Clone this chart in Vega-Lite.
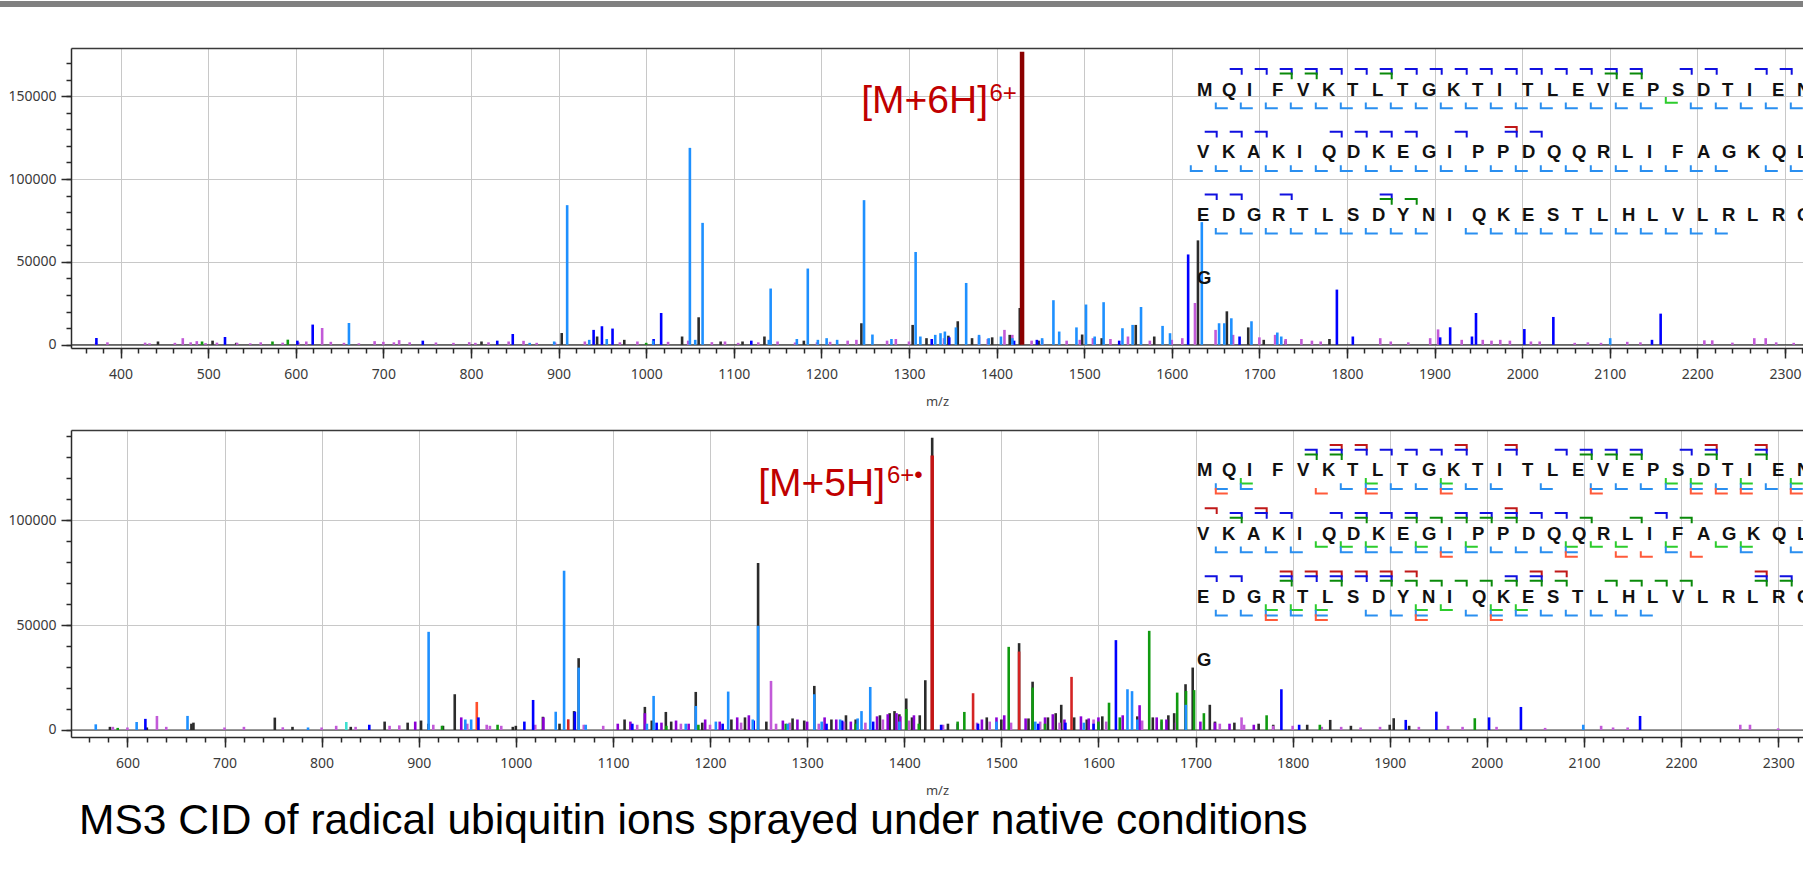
{
"$schema":"https://vega.github.io/schema/vega-lite/v6.json",
"autosize":{"type":"pad"},
"padding":0,
"background":"#ffffff",
"config":{"view":{"stroke":null}},
"datasets":{
"t":[
{"mz":442.7,"i":2000,"s":"k"},{"mz":505,"i":2500,"s":"k"},{"mz":532,"i":1200,"s":"k"},{"mz":812,"i":2000,"s":"k"},{"mz":903.6,"i":7100,"s":"k"},{"mz":944,"i":5000,"s":"k"},{"mz":975,"i":3000,"s":"k"},{"mz":1041,"i":5000,"s":"k"},{"mz":1059.9,"i":16600,"s":"k"},{"mz":1085,"i":2000,"s":"k"},{"mz":1110,"i":2000,"s":"k"},{"mz":1135,"i":5000,"s":"k"},{"mz":1180,"i":2500,"s":"k"},{"mz":1245.7,"i":13000,"s":"k"},{"mz":1304.2,"i":12000,"s":"k"},{"mz":1320,"i":4000,"s":"k"},{"mz":1345,"i":5500,"s":"k"},{"mz":1355.7,"i":14200,"s":"k"},{"mz":1372,"i":4000,"s":"k"},{"mz":1395,"i":4500,"s":"k"},{"mz":1415,"i":6000,"s":"k"},{"mz":1426.5,"i":22200,"s":"k"},{"mz":1448,"i":2500,"s":"k"},{"mz":1497.7,"i":6200,"s":"k"},{"mz":1520,"i":4000,"s":"k"},{"mz":1558.9,"i":12000,"s":"k"},{"mz":1580,"i":5000,"s":"k"},{"mz":1629.9,"i":63000,"s":"k"},{"mz":1662.9,"i":20200,"s":"k"},{"mz":1687.3,"i":10500,"s":"k"},{"mz":1705,"i":3000,"s":"k"},{"mz":1730,"i":2500,"s":"k"},{"mz":1780,"i":3500,"s":"k"},{"mz":1905,"i":3000,"s":"k"},
{"mz":372,"i":1200,"s":"o"},{"mz":385,"i":1500,"s":"o"},{"mz":428,"i":1300,"s":"o"},{"mz":433,"i":900,"s":"o"},{"mz":462,"i":1200,"s":"o"},{"mz":471,"i":4000,"s":"o"},{"mz":480,"i":1500,"s":"o"},{"mz":487,"i":2200,"s":"o"},{"mz":497,"i":1000,"s":"o"},{"mz":510,"i":1300,"s":"o"},{"mz":533,"i":1200,"s":"o"},{"mz":548,"i":900,"s":"o"},{"mz":560,"i":1500,"s":"o"},{"mz":585,"i":1300,"s":"o"},{"mz":603,"i":1500,"s":"o"},{"mz":612,"i":2000,"s":"o"},{"mz":630.1,"i":10150,"s":"o"},{"mz":640,"i":1800,"s":"o"},{"mz":655,"i":1200,"s":"o"},{"mz":672,"i":900,"s":"o"},{"mz":690,"i":2200,"s":"o"},{"mz":700,"i":1800,"s":"o"},{"mz":712,"i":1500,"s":"o"},{"mz":718,"i":2800,"s":"o"},{"mz":730,"i":1500,"s":"o"},{"mz":760,"i":1400,"s":"o"},{"mz":780,"i":1200,"s":"o"},{"mz":798,"i":1600,"s":"o"},{"mz":805,"i":1200,"s":"o"},{"mz":820,"i":1500,"s":"o"},{"mz":843,"i":2000,"s":"o"},{"mz":860,"i":2400,"s":"o"},{"mz":875,"i":1200,"s":"o"},{"mz":896,"i":1400,"s":"o"},{"mz":930,"i":2000,"s":"o"},{"mz":970,"i":1500,"s":"o"},{"mz":990,"i":2000,"s":"o"},{"mz":1025,"i":1800,"s":"o"},{"mz":1048,"i":2500,"s":"o"},{"mz":1075,"i":1600,"s":"o"},{"mz":1090,"i":2000,"s":"o"},{"mz":1105,"i":1200,"s":"o"},{"mz":1128,"i":1500,"s":"o"},{"mz":1150,"i":2000,"s":"o"},{"mz":1170,"i":1400,"s":"o"},{"mz":1195,"i":1500,"s":"o"},{"mz":1210,"i":1800,"s":"o"},{"mz":1230,"i":2500,"s":"o"},{"mz":1240,"i":3000,"s":"o"},{"mz":1275,"i":2500,"s":"o"},{"mz":1285,"i":3500,"s":"o"},{"mz":1300,"i":2000,"s":"o"},{"mz":1340,"i":4000,"s":"o"},{"mz":1380,"i":5000,"s":"o"},{"mz":1390,"i":3500,"s":"o"},{"mz":1409,"i":9000,"s":"o"},{"mz":1418,"i":6000,"s":"o"},{"mz":1440,"i":2500,"s":"o"},{"mz":1452,"i":3000,"s":"o"},{"mz":1480,"i":2500,"s":"o"},{"mz":1495,"i":3000,"s":"o"},{"mz":1510,"i":4000,"s":"o"},{"mz":1530,"i":3500,"s":"o"},{"mz":1550,"i":5000,"s":"o"},{"mz":1575,"i":2500,"s":"o"},{"mz":1600,"i":3000,"s":"o"},{"mz":1612,"i":4000,"s":"o"},{"mz":1626.5,"i":25200,"s":"o"},{"mz":1650,"i":9000,"s":"o"},{"mz":1670,"i":6000,"s":"o"},{"mz":1700,"i":4500,"s":"o"},{"mz":1718,"i":6000,"s":"o"},{"mz":1730,"i":3500,"s":"o"},{"mz":1748,"i":3500,"s":"o"},{"mz":1760,"i":2500,"s":"o"},{"mz":1770,"i":2000,"s":"o"},{"mz":1838,"i":4000,"s":"o"},{"mz":1850,"i":2000,"s":"o"},{"mz":1870,"i":1500,"s":"o"},{"mz":1895,"i":4000,"s":"o"},{"mz":1904,"i":9300,"s":"o"},{"mz":1931,"i":3000,"s":"o"},{"mz":1955,"i":3000,"s":"o"},{"mz":1965,"i":2500,"s":"o"},{"mz":1975,"i":3000,"s":"o"},{"mz":1986,"i":2500,"s":"o"},{"mz":2010,"i":2000,"s":"o"},{"mz":2020,"i":2000,"s":"o"},{"mz":2060,"i":1200,"s":"o"},{"mz":2075,"i":1500,"s":"o"},{"mz":2090,"i":1200,"s":"o"},{"mz":2120,"i":1800,"s":"o"},{"mz":2135,"i":1500,"s":"o"},{"mz":2208,"i":2700,"s":"o"},{"mz":2217,"i":2700,"s":"o"},{"mz":2240,"i":1300,"s":"o"},{"mz":2265,"i":4000,"s":"o"},{"mz":2278,"i":4000,"s":"o"},{"mz":2290,"i":1500,"s":"o"},{"mz":2310,"i":1200,"s":"o"},
{"mz":493,"i":2000,"s":"g"},{"mz":573.4,"i":2000,"s":"g"},{"mz":590.9,"i":3100,"s":"g"},{"mz":1000,"i":1200,"s":"g"},
{"mz":372.4,"i":4100,"s":"b"},{"mz":519.2,"i":4700,"s":"b"},{"mz":601.8,"i":2500,"s":"b"},{"mz":619.3,"i":12200,"s":"b"},{"mz":745,"i":2500,"s":"b"},{"mz":830,"i":2500,"s":"b"},{"mz":847.7,"i":6500,"s":"b"},{"mz":940,"i":9000,"s":"b"},{"mz":949.5,"i":11200,"s":"b"},{"mz":961.6,"i":9800,"s":"b"},{"mz":1008.5,"i":3500,"s":"b"},{"mz":1017.1,"i":19200,"s":"b"},{"mz":1120,"i":2500,"s":"b"},{"mz":1326,"i":3500,"s":"b"},{"mz":1346,"i":4500,"s":"b"},{"mz":1420,"i":2500,"s":"b"},{"mz":1446,"i":3000,"s":"b"},{"mz":1540,"i":2500,"s":"b"},{"mz":1618.7,"i":54500,"s":"b"},{"mz":1677.4,"i":5000,"s":"b"},{"mz":1788.5,"i":33300,"s":"b"},{"mz":1806.7,"i":5000,"s":"b"},{"mz":1906.4,"i":4500,"s":"b"},{"mz":1917.8,"i":10560,"s":"b"},{"mz":1942.7,"i":5000,"s":"b"},{"mz":1947.3,"i":19200,"s":"b"},{"mz":2002.5,"i":9500,"s":"b"},{"mz":2035.6,"i":16800,"s":"b"},{"mz":2148.2,"i":3000,"s":"b"},{"mz":2158.1,"i":18800,"s":"b"},
{"mz":660.7,"i":13160,"s":"l"},{"mz":867,"i":1200,"s":"l"},{"mz":895,"i":2000,"s":"l"},{"mz":909.8,"i":84240,"s":"l"},{"mz":935,"i":3000,"s":"l"},{"mz":955,"i":3500,"s":"l"},{"mz":1008,"i":2500,"s":"l"},{"mz":1049.9,"i":118800,"s":"l"},{"mz":1056,"i":3000,"s":"l"},{"mz":1064.4,"i":73550,"s":"l"},{"mz":1140,"i":3000,"s":"l"},{"mz":1142.1,"i":33940,"s":"l"},{"mz":1172,"i":3500,"s":"l"},{"mz":1184.5,"i":46000,"s":"l"},{"mz":1196,"i":3000,"s":"l"},{"mz":1206,"i":4000,"s":"l"},{"mz":1218,"i":3000,"s":"l"},{"mz":1248.7,"i":87260,"s":"l"},{"mz":1258.3,"i":6200,"s":"l"},{"mz":1280,"i":3500,"s":"l"},{"mz":1307.6,"i":56000,"s":"l"},{"mz":1313,"i":5000,"s":"l"},{"mz":1330,"i":6000,"s":"l"},{"mz":1336,"i":7000,"s":"l"},{"mz":1341,"i":8000,"s":"l"},{"mz":1353.6,"i":10500,"s":"l"},{"mz":1365.3,"i":37300,"s":"l"},{"mz":1380,"i":6000,"s":"l"},{"mz":1391,"i":4000,"s":"l"},{"mz":1405,"i":5000,"s":"l"},{"mz":1418,"i":4000,"s":"l"},{"mz":1452,"i":4000,"s":"l"},{"mz":1464.9,"i":26900,"s":"l"},{"mz":1471.5,"i":8000,"s":"l"},{"mz":1491.2,"i":10500,"s":"l"},{"mz":1502.1,"i":24300,"s":"l"},{"mz":1512,"i":5000,"s":"l"},{"mz":1522.2,"i":25700,"s":"l"},{"mz":1543.7,"i":10000,"s":"l"},{"mz":1555.3,"i":12000,"s":"l"},{"mz":1564.9,"i":22800,"s":"l"},{"mz":1589.5,"i":11400,"s":"l"},{"mz":1598,"i":7000,"s":"l"},{"mz":1634.3,"i":74000,"s":"l"},{"mz":1654,"i":13000,"s":"l"},{"mz":1660,"i":13000,"s":"l"},{"mz":1668,"i":16000,"s":"l"},{"mz":1691,"i":14200,"s":"l"},{"mz":1720.5,"i":7400,"s":"l"},{"mz":1725,"i":5000,"s":"l"},{"mz":2100.5,"i":4000,"s":"l"},
{"mz":1429.1,"i":176800,"s":"P"}
],
"u":[
{"mz":582,"i":1500,"s":"k"},{"mz":620,"i":1200,"s":"k"},{"mz":668,"i":3500,"s":"k"},{"mz":770,"i":1500,"s":"k"},{"mz":830,"i":1500,"s":"k"},{"mz":910,"i":3000,"s":"k"},{"mz":925,"i":2000,"s":"k"},{"mz":1000,"i":2000,"s":"k"},{"mz":1045,"i":3000,"s":"k"},{"mz":1112,"i":5000,"s":"k"},{"mz":1140,"i":4500,"s":"k"},{"mz":1160,"i":4000,"s":"k"},{"mz":1192,"i":3500,"s":"k"},{"mz":1222,"i":5000,"s":"k"},{"mz":1236,"i":6000,"s":"k"},{"mz":1258,"i":4000,"s":"k"},{"mz":1285,"i":5500,"s":"k"},{"mz":1297,"i":4500,"s":"k"},{"mz":1325,"i":5000,"s":"k"},{"mz":1340,"i":7000,"s":"k"},{"mz":1350,"i":5000,"s":"k"},{"mz":1375,"i":7000,"s":"k"},{"mz":1385,"i":8000,"s":"k"},{"mz":1390,"i":9000,"s":"k"},{"mz":1395,"i":7500,"s":"k"},{"mz":1408,"i":6000,"s":"k"},{"mz":1416,"i":7000,"s":"k"},{"mz":1445,"i":3000,"s":"k"},{"mz":1485,"i":6000,"s":"k"},{"mz":1500,"i":5000,"s":"k"},{"mz":1528,"i":5500,"s":"k"},{"mz":1548,"i":6000,"s":"k"},{"mz":1556,"i":8000,"s":"k"},{"mz":1575,"i":6000,"s":"k"},{"mz":1588,"i":5000,"s":"k"},{"mz":1604,"i":6500,"s":"k"},{"mz":1640,"i":6500,"s":"k"},{"mz":1656,"i":6000,"s":"k"},{"mz":1672,"i":7000,"s":"k"},{"mz":1678,"i":8000,"s":"k"},{"mz":1720,"i":4000,"s":"k"},{"mz":1740,"i":3500,"s":"k"},{"mz":1765,"i":3000,"s":"k"},{"mz":1780,"i":2500,"s":"k"},{"mz":1815,"i":2500,"s":"k"},{"mz":1860,"i":2000,"s":"k"},{"mz":1900,"i":2500,"s":"k"},{"mz":1920,"i":2000,"s":"k"},
{"mz":665.9,"i":3000,"s":"k"},{"mz":751.8,"i":5900,"s":"k"},{"mz":864.9,"i":4000,"s":"k"},{"mz":888.6,"i":3500,"s":"k"},{"mz":902.4,"i":4500,"s":"k"},{"mz":937.1,"i":17030,"s":"k"},{"mz":996.9,"i":1500,"s":"k"},{"mz":1027.9,"i":6300,"s":"k"},{"mz":1060,"i":9000,"s":"k"},{"mz":1064.7,"i":34200,"s":"k"},{"mz":1132.9,"i":11000,"s":"k"},{"mz":1154.5,"i":8600,"s":"k"},{"mz":1185.3,"i":18130,"s":"k"},{"mz":1249.5,"i":79530,"s":"k"},{"mz":1307.4,"i":21000,"s":"k"},{"mz":1402.1,"i":15000,"s":"k"},{"mz":1421.7,"i":23700,"s":"k"},{"mz":1428.8,"i":139180,"s":"k"},{"mz":1518.3,"i":41360,"s":"k"},{"mz":1532.2,"i":23000,"s":"k"},{"mz":1561.7,"i":12000,"s":"k"},{"mz":1689.7,"i":21800,"s":"k"},{"mz":1697.1,"i":29730,"s":"k"},{"mz":1714.7,"i":12000,"s":"k"},{"mz":1838.7,"i":4800,"s":"k"},{"mz":1904.1,"i":5600,"s":"k"},
{"mz":585,"i":1500,"s":"o"},{"mz":600,"i":1200,"s":"o"},{"mz":630.4,"i":6680,"s":"o"},{"mz":640,"i":1500,"s":"o"},{"mz":700,"i":1200,"s":"o"},{"mz":720,"i":1500,"s":"o"},{"mz":760,"i":1300,"s":"o"},{"mz":800,"i":1200,"s":"o"},{"mz":815,"i":2000,"s":"o"},{"mz":835,"i":1500,"s":"o"},{"mz":870,"i":2000,"s":"o"},{"mz":880,"i":2200,"s":"o"},{"mz":915,"i":2500,"s":"o"},{"mz":950,"i":3000,"s":"o"},{"mz":970,"i":2500,"s":"o"},{"mz":973.3,"i":2000,"s":"o"},{"mz":985,"i":2000,"s":"o"},{"mz":1020,"i":2500,"s":"o"},{"mz":1070,"i":2500,"s":"o"},{"mz":1090,"i":2000,"s":"o"},{"mz":1125,"i":2500,"s":"o"},{"mz":1170,"i":3000,"s":"o"},{"mz":1200,"i":2500,"s":"o"},{"mz":1232,"i":3500,"s":"o"},{"mz":1262.8,"i":23380,"s":"o"},{"mz":1268,"i":3000,"s":"o"},{"mz":1282,"i":3500,"s":"o"},{"mz":1312,"i":3000,"s":"o"},{"mz":1338,"i":4000,"s":"o"},{"mz":1360,"i":3500,"s":"o"},{"mz":1378,"i":5000,"s":"o"},{"mz":1405,"i":4500,"s":"o"},{"mz":1440,"i":2500,"s":"o"},{"mz":1475,"i":3500,"s":"o"},{"mz":1488,"i":4000,"s":"o"},{"mz":1510,"i":3500,"s":"o"},{"mz":1540,"i":4000,"s":"o"},{"mz":1560,"i":3500,"s":"o"},{"mz":1595,"i":5000,"s":"o"},{"mz":1608,"i":4000,"s":"o"},{"mz":1645,"i":4500,"s":"o"},{"mz":1665,"i":4000,"s":"o"},{"mz":1680,"i":3500,"s":"o"},{"mz":1725,"i":3000,"s":"o"},{"mz":1747.4,"i":6000,"s":"o"},{"mz":1750,"i":2500,"s":"o"},{"mz":1780,"i":2000,"s":"o"},{"mz":1800,"i":2000,"s":"o"},{"mz":1830,"i":1500,"s":"o"},{"mz":1850,"i":1500,"s":"o"},{"mz":1870,"i":1200,"s":"o"},{"mz":1890,"i":1500,"s":"o"},{"mz":1930,"i":1500,"s":"o"},{"mz":1960,"i":2000,"s":"o"},{"mz":1975,"i":1500,"s":"o"},{"mz":2010,"i":1500,"s":"o"},{"mz":2060,"i":1000,"s":"o"},{"mz":2117.7,"i":2000,"s":"o"},{"mz":2130,"i":1200,"s":"o"},{"mz":2145,"i":1200,"s":"o"},{"mz":2261,"i":2500,"s":"o"},{"mz":2271,"i":2500,"s":"o"},{"mz":2300,"i":800,"s":"o"},
{"mz":896.4,"i":4000,"s":"p"},{"mz":943.8,"i":6000,"s":"p"},{"mz":1028.4,"i":6000,"s":"p"},{"mz":1105,"i":3000,"s":"p"},{"mz":1118,"i":4000,"s":"p"},{"mz":1132.9,"i":8000,"s":"p"},{"mz":1150,"i":3500,"s":"p"},{"mz":1165,"i":4500,"s":"p"},{"mz":1178,"i":3000,"s":"p"},{"mz":1195,"i":5000,"s":"p"},{"mz":1210,"i":4000,"s":"p"},{"mz":1228,"i":6000,"s":"p"},{"mz":1240,"i":7000,"s":"p"},{"mz":1275,"i":4500,"s":"p"},{"mz":1290,"i":5000,"s":"p"},{"mz":1300,"i":4000,"s":"p"},{"mz":1318,"i":6000,"s":"p"},{"mz":1330,"i":5000,"s":"p"},{"mz":1345,"i":4000,"s":"p"},{"mz":1372,"i":6500,"s":"p"},{"mz":1383,"i":7500,"s":"p"},{"mz":1392,"i":8000,"s":"p"},{"mz":1396,"i":6500,"s":"p"},{"mz":1410,"i":7000,"s":"p"},{"mz":1455,"i":3000,"s":"p"},{"mz":1480,"i":5000,"s":"p"},{"mz":1495,"i":6000,"s":"p"},{"mz":1503,"i":7000,"s":"p"},{"mz":1525,"i":5500,"s":"p"},{"mz":1545,"i":6000,"s":"p"},{"mz":1553,"i":7500,"s":"p"},{"mz":1565,"i":5000,"s":"p"},{"mz":1582,"i":6500,"s":"p"},{"mz":1590,"i":5500,"s":"p"},{"mz":1600,"i":6000,"s":"p"},{"mz":1625,"i":7000,"s":"p"},{"mz":1642.4,"i":11800,"s":"p"},{"mz":1660,"i":6000,"s":"p"},{"mz":1670,"i":5000,"s":"p"},{"mz":1705,"i":4000,"s":"p"},{"mz":1720,"i":3500,"s":"p"},{"mz":1735,"i":3000,"s":"p"},{"mz":1760,"i":2500,"s":"p"},
{"mz":590,"i":1000,"s":"g"},{"mz":924,"i":2000,"s":"g"},{"mz":981.2,"i":2500,"s":"g"},{"mz":1155,"i":2000,"s":"g"},{"mz":1188,"i":2500,"s":"g"},{"mz":1278,"i":3000,"s":"g"},{"mz":1350,"i":3000,"s":"g"},{"mz":1402.1,"i":10000,"s":"g"},{"mz":1415,"i":3000,"s":"g"},{"mz":1455,"i":4000,"s":"g"},{"mz":1461.9,"i":8600,"s":"g"},{"mz":1507.6,"i":39600,"s":"g"},{"mz":1532.2,"i":20200,"s":"g"},{"mz":1545,"i":3000,"s":"g"},{"mz":1600,"i":4000,"s":"g"},{"mz":1610.9,"i":13000,"s":"g"},{"mz":1622,"i":6000,"s":"g"},{"mz":1652.3,"i":47230,"s":"g"},{"mz":1665,"i":5000,"s":"g"},{"mz":1681.1,"i":17800,"s":"g"},{"mz":1690.2,"i":18600,"s":"g"},{"mz":1698.5,"i":19000,"s":"g"},{"mz":1708.6,"i":8000,"s":"g"},{"mz":1773.2,"i":7000,"s":"g"},{"mz":1828,"i":2500,"s":"g"},{"mz":1987.6,"i":5600,"s":"g"},
{"mz":825.4,"i":3800,"s":"c"},
{"mz":959.8,"i":13360,"s":"q"},
{"mz":1054,"i":5100,"s":"r"},{"mz":1470.9,"i":17510,"s":"r"},{"mz":1518.3,"i":37360,"s":"r"},{"mz":1572.3,"i":25290,"s":"r"},
{"mz":618.5,"i":5300,"s":"b"},{"mz":849.1,"i":2500,"s":"b"},{"mz":961.5,"i":6000,"s":"b"},{"mz":1008.8,"i":4000,"s":"b"},{"mz":1017.8,"i":14300,"s":"b"},{"mz":1060.8,"i":8700,"s":"b"},{"mz":1120,"i":3000,"s":"b"},{"mz":1145,"i":3500,"s":"b"},{"mz":1213,"i":3000,"s":"b"},{"mz":1245,"i":4500,"s":"b"},{"mz":1320,"i":3000,"s":"b"},{"mz":1336,"i":4500,"s":"b"},{"mz":1368,"i":4000,"s":"b"},{"mz":1438,"i":2500,"s":"b"},{"mz":1476,"i":3000,"s":"b"},{"mz":1538,"i":3000,"s":"b"},{"mz":1566,"i":3500,"s":"b"},{"mz":1595,"i":3000,"s":"b"},{"mz":1618,"i":42800,"s":"b"},{"mz":1788.4,"i":19400,"s":"b"},{"mz":1806.7,"i":2500,"s":"b"},{"mz":1916.5,"i":4800,"s":"b"},{"mz":1948,"i":8740,"s":"b"},{"mz":2002.3,"i":6000,"s":"b"},{"mz":2035.1,"i":10970,"s":"b"},{"mz":2157.8,"i":6680,"s":"b"},
{"mz":567.4,"i":2700,"s":"l"},{"mz":609.5,"i":3800,"s":"l"},{"mz":661.9,"i":6700,"s":"l"},{"mz":786,"i":1200,"s":"l"},{"mz":910.2,"i":46760,"s":"l"},{"mz":948,"i":5000,"s":"l"},{"mz":954,"i":5000,"s":"l"},{"mz":1041.1,"i":8700,"s":"l"},{"mz":1049.7,"i":75860,"s":"l"},{"mz":1064.7,"i":29700,"s":"l"},{"mz":1072,"i":2500,"s":"l"},{"mz":1135,"i":3000,"s":"l"},{"mz":1141.9,"i":16220,"s":"l"},{"mz":1175,"i":3000,"s":"l"},{"mz":1185.3,"i":11450,"s":"l"},{"mz":1206,"i":4000,"s":"l"},{"mz":1218.7,"i":18300,"s":"l"},{"mz":1244,"i":5000,"s":"l"},{"mz":1249.5,"i":49620,"s":"l"},{"mz":1280,"i":3000,"s":"l"},{"mz":1307.4,"i":17030,"s":"l"},{"mz":1315,"i":4000,"s":"l"},{"mz":1334,"i":5000,"s":"l"},{"mz":1352,"i":5500,"s":"l"},{"mz":1356,"i":9000,"s":"l"},{"mz":1365,"i":20500,"s":"l"},{"mz":1395,"i":4000,"s":"l"},{"mz":1495,"i":4000,"s":"l"},{"mz":1535,"i":4000,"s":"l"},{"mz":1585,"i":3500,"s":"l"},{"mz":1629.9,"i":19400,"s":"l"},{"mz":1634.6,"i":18500,"s":"l"},{"mz":1640,"i":5000,"s":"l"},{"mz":1690,"i":12000,"s":"l"},{"mz":2099.3,"i":2500,"s":"l"},
{"mz":1428.8,"i":130730,"s":"R"}
],
"seq":[
{"r":1,"i":0,"aa":"M"},{"r":1,"i":1,"aa":"Q"},{"r":1,"i":2,"aa":"I"},{"r":1,"i":3,"aa":"F"},{"r":1,"i":4,"aa":"V"},{"r":1,"i":5,"aa":"K"},{"r":1,"i":6,"aa":"T"},{"r":1,"i":7,"aa":"L"},{"r":1,"i":8,"aa":"T"},{"r":1,"i":9,"aa":"G"},{"r":1,"i":10,"aa":"K"},{"r":1,"i":11,"aa":"T"},{"r":1,"i":12,"aa":"I"},{"r":1,"i":13,"aa":"T"},{"r":1,"i":14,"aa":"L"},{"r":1,"i":15,"aa":"E"},{"r":1,"i":16,"aa":"V"},{"r":1,"i":17,"aa":"E"},{"r":1,"i":18,"aa":"P"},{"r":1,"i":19,"aa":"S"},{"r":1,"i":20,"aa":"D"},{"r":1,"i":21,"aa":"T"},{"r":1,"i":22,"aa":"I"},{"r":1,"i":23,"aa":"E"},{"r":1,"i":24,"aa":"N"},
{"r":2,"i":0,"aa":"V"},{"r":2,"i":1,"aa":"K"},{"r":2,"i":2,"aa":"A"},{"r":2,"i":3,"aa":"K"},{"r":2,"i":4,"aa":"I"},{"r":2,"i":5,"aa":"Q"},{"r":2,"i":6,"aa":"D"},{"r":2,"i":7,"aa":"K"},{"r":2,"i":8,"aa":"E"},{"r":2,"i":9,"aa":"G"},{"r":2,"i":10,"aa":"I"},{"r":2,"i":11,"aa":"P"},{"r":2,"i":12,"aa":"P"},{"r":2,"i":13,"aa":"D"},{"r":2,"i":14,"aa":"Q"},{"r":2,"i":15,"aa":"Q"},{"r":2,"i":16,"aa":"R"},{"r":2,"i":17,"aa":"L"},{"r":2,"i":18,"aa":"I"},{"r":2,"i":19,"aa":"F"},{"r":2,"i":20,"aa":"A"},{"r":2,"i":21,"aa":"G"},{"r":2,"i":22,"aa":"K"},{"r":2,"i":23,"aa":"Q"},{"r":2,"i":24,"aa":"L"},
{"r":3,"i":0,"aa":"E"},{"r":3,"i":1,"aa":"D"},{"r":3,"i":2,"aa":"G"},{"r":3,"i":3,"aa":"R"},{"r":3,"i":4,"aa":"T"},{"r":3,"i":5,"aa":"L"},{"r":3,"i":6,"aa":"S"},{"r":3,"i":7,"aa":"D"},{"r":3,"i":8,"aa":"Y"},{"r":3,"i":9,"aa":"N"},{"r":3,"i":10,"aa":"I"},{"r":3,"i":11,"aa":"Q"},{"r":3,"i":12,"aa":"K"},{"r":3,"i":13,"aa":"E"},{"r":3,"i":14,"aa":"S"},{"r":3,"i":15,"aa":"T"},{"r":3,"i":16,"aa":"L"},{"r":3,"i":17,"aa":"H"},{"r":3,"i":18,"aa":"L"},{"r":3,"i":19,"aa":"V"},{"r":3,"i":20,"aa":"L"},{"r":3,"i":21,"aa":"R"},{"r":3,"i":22,"aa":"L"},{"r":3,"i":23,"aa":"R"},{"r":3,"i":24,"aa":"G"},
{"r":4,"i":0,"aa":"G"}
],
"br":[
{"p":1,"r":1,"i":1,"t":"b"},{"p":1,"r":1,"i":2,"t":"b"},{"p":1,"r":1,"i":3,"t":"b"},{"p":1,"r":1,"i":4,"t":"b"},{"p":1,"r":1,"i":5,"t":"b"},{"p":1,"r":1,"i":6,"t":"b"},{"p":1,"r":1,"i":7,"t":"b"},{"p":1,"r":1,"i":8,"t":"b"},{"p":1,"r":1,"i":9,"t":"b"},{"p":1,"r":1,"i":10,"t":"b"},{"p":1,"r":1,"i":11,"t":"b"},{"p":1,"r":1,"i":12,"t":"b"},{"p":1,"r":1,"i":13,"t":"b"},{"p":1,"r":1,"i":14,"t":"b"},{"p":1,"r":1,"i":15,"t":"b"},{"p":1,"r":1,"i":16,"t":"b"},{"p":1,"r":1,"i":17,"t":"b"},{"p":1,"r":1,"i":19,"t":"b"},{"p":1,"r":1,"i":20,"t":"b"},{"p":1,"r":1,"i":22,"t":"b"},{"p":1,"r":1,"i":23,"t":"b"},
{"p":1,"r":1,"i":3,"t":"a"},{"p":1,"r":1,"i":4,"t":"a"},{"p":1,"r":1,"i":7,"t":"a"},{"p":1,"r":1,"i":16,"t":"a"},{"p":1,"r":1,"i":17,"t":"a"},
{"p":1,"r":1,"i":0,"t":"y"},{"p":1,"r":1,"i":1,"t":"y"},{"p":1,"r":1,"i":2,"t":"y"},{"p":1,"r":1,"i":3,"t":"y"},{"p":1,"r":1,"i":4,"t":"y"},{"p":1,"r":1,"i":5,"t":"y"},{"p":1,"r":1,"i":6,"t":"y"},{"p":1,"r":1,"i":7,"t":"y"},{"p":1,"r":1,"i":8,"t":"y"},{"p":1,"r":1,"i":9,"t":"y"},{"p":1,"r":1,"i":10,"t":"y"},{"p":1,"r":1,"i":11,"t":"y"},{"p":1,"r":1,"i":12,"t":"y"},{"p":1,"r":1,"i":13,"t":"y"},{"p":1,"r":1,"i":14,"t":"y"},{"p":1,"r":1,"i":15,"t":"y"},{"p":1,"r":1,"i":16,"t":"y"},{"p":1,"r":1,"i":17,"t":"y"},{"p":1,"r":1,"i":19,"t":"y"},{"p":1,"r":1,"i":20,"t":"y"},{"p":1,"r":1,"i":21,"t":"y"},{"p":1,"r":1,"i":22,"t":"y"},{"p":1,"r":1,"i":23,"t":"y"},
{"p":1,"r":1,"i":18,"t":"x"},
{"p":1,"r":2,"i":0,"t":"b"},{"p":1,"r":2,"i":1,"t":"b"},{"p":1,"r":2,"i":2,"t":"b"},{"p":1,"r":2,"i":5,"t":"b"},{"p":1,"r":2,"i":6,"t":"b"},{"p":1,"r":2,"i":7,"t":"b"},{"p":1,"r":2,"i":8,"t":"b"},{"p":1,"r":2,"i":10,"t":"b"},{"p":1,"r":2,"i":12,"t":"b"},{"p":1,"r":2,"i":13,"t":"b"},
{"p":1,"r":2,"i":12,"t":"c"},
{"p":1,"r":2,"i":-1,"t":"y"},{"p":1,"r":2,"i":0,"t":"y"},{"p":1,"r":2,"i":1,"t":"y"},{"p":1,"r":2,"i":2,"t":"y"},{"p":1,"r":2,"i":3,"t":"y"},{"p":1,"r":2,"i":4,"t":"y"},{"p":1,"r":2,"i":5,"t":"y"},{"p":1,"r":2,"i":6,"t":"y"},{"p":1,"r":2,"i":7,"t":"y"},{"p":1,"r":2,"i":8,"t":"y"},{"p":1,"r":2,"i":9,"t":"y"},{"p":1,"r":2,"i":10,"t":"y"},{"p":1,"r":2,"i":11,"t":"y"},{"p":1,"r":2,"i":12,"t":"y"},{"p":1,"r":2,"i":13,"t":"y"},{"p":1,"r":2,"i":14,"t":"y"},{"p":1,"r":2,"i":15,"t":"y"},{"p":1,"r":2,"i":16,"t":"y"},{"p":1,"r":2,"i":17,"t":"y"},{"p":1,"r":2,"i":18,"t":"y"},{"p":1,"r":2,"i":19,"t":"y"},{"p":1,"r":2,"i":20,"t":"y"},{"p":1,"r":2,"i":22,"t":"y"},{"p":1,"r":2,"i":23,"t":"y"},
{"p":1,"r":3,"i":0,"t":"b"},{"p":1,"r":3,"i":1,"t":"b"},{"p":1,"r":3,"i":3,"t":"b"},{"p":1,"r":3,"i":7,"t":"b"},
{"p":1,"r":3,"i":7,"t":"a"},{"p":1,"r":3,"i":8,"t":"a"},
{"p":1,"r":3,"i":0,"t":"y"},{"p":1,"r":3,"i":1,"t":"y"},{"p":1,"r":3,"i":2,"t":"y"},{"p":1,"r":3,"i":3,"t":"y"},{"p":1,"r":3,"i":4,"t":"y"},{"p":1,"r":3,"i":5,"t":"y"},{"p":1,"r":3,"i":6,"t":"y"},{"p":1,"r":3,"i":7,"t":"y"},{"p":1,"r":3,"i":8,"t":"y"},{"p":1,"r":3,"i":10,"t":"y"},{"p":1,"r":3,"i":11,"t":"y"},{"p":1,"r":3,"i":12,"t":"y"},{"p":1,"r":3,"i":13,"t":"y"},{"p":1,"r":3,"i":14,"t":"y"},{"p":1,"r":3,"i":15,"t":"y"},{"p":1,"r":3,"i":16,"t":"y"},{"p":1,"r":3,"i":17,"t":"y"},{"p":1,"r":3,"i":18,"t":"y"},{"p":1,"r":3,"i":19,"t":"y"},{"p":1,"r":3,"i":20,"t":"y"},
{"p":2,"r":1,"i":4,"t":"b"},{"p":2,"r":1,"i":5,"t":"b"},{"p":2,"r":1,"i":6,"t":"b"},{"p":2,"r":1,"i":7,"t":"b"},{"p":2,"r":1,"i":8,"t":"b"},{"p":2,"r":1,"i":9,"t":"b"},{"p":2,"r":1,"i":10,"t":"b"},{"p":2,"r":1,"i":12,"t":"b"},{"p":2,"r":1,"i":14,"t":"b"},{"p":2,"r":1,"i":15,"t":"b"},{"p":2,"r":1,"i":16,"t":"b"},{"p":2,"r":1,"i":17,"t":"b"},{"p":2,"r":1,"i":19,"t":"b"},{"p":2,"r":1,"i":20,"t":"b"},{"p":2,"r":1,"i":22,"t":"b"},
{"p":2,"r":1,"i":4,"t":"a"},{"p":2,"r":1,"i":5,"t":"a"},{"p":2,"r":1,"i":15,"t":"a"},{"p":2,"r":1,"i":16,"t":"a"},{"p":2,"r":1,"i":17,"t":"a"},{"p":2,"r":1,"i":20,"t":"a"},{"p":2,"r":1,"i":22,"t":"a"},
{"p":2,"r":1,"i":5,"t":"c"},{"p":2,"r":1,"i":6,"t":"c"},{"p":2,"r":1,"i":10,"t":"c"},{"p":2,"r":1,"i":12,"t":"c"},{"p":2,"r":1,"i":20,"t":"c"},{"p":2,"r":1,"i":22,"t":"c"},
{"p":2,"r":1,"i":0,"t":"y"},{"p":2,"r":1,"i":1,"t":"y"},{"p":2,"r":1,"i":5,"t":"y"},{"p":2,"r":1,"i":6,"t":"y"},{"p":2,"r":1,"i":7,"t":"y"},{"p":2,"r":1,"i":8,"t":"y"},{"p":2,"r":1,"i":9,"t":"y"},{"p":2,"r":1,"i":10,"t":"y"},{"p":2,"r":1,"i":11,"t":"y"},{"p":2,"r":1,"i":13,"t":"y"},{"p":2,"r":1,"i":15,"t":"y"},{"p":2,"r":1,"i":16,"t":"y"},{"p":2,"r":1,"i":17,"t":"y"},{"p":2,"r":1,"i":18,"t":"y"},{"p":2,"r":1,"i":19,"t":"y"},{"p":2,"r":1,"i":20,"t":"y"},{"p":2,"r":1,"i":21,"t":"y"},{"p":2,"r":1,"i":22,"t":"y"},{"p":2,"r":1,"i":23,"t":"y"},
{"p":2,"r":1,"i":1,"t":"x"},{"p":2,"r":1,"i":6,"t":"x"},{"p":2,"r":1,"i":9,"t":"x"},{"p":2,"r":1,"i":18,"t":"x"},{"p":2,"r":1,"i":19,"t":"x"},{"p":2,"r":1,"i":21,"t":"x"},{"p":2,"r":1,"i":23,"t":"x"},
{"p":2,"r":1,"i":0,"t":"z"},{"p":2,"r":1,"i":4,"t":"z"},{"p":2,"r":1,"i":6,"t":"z"},{"p":2,"r":1,"i":9,"t":"z"},{"p":2,"r":1,"i":15,"t":"z"},{"p":2,"r":1,"i":19,"t":"z"},{"p":2,"r":1,"i":20,"t":"z"},{"p":2,"r":1,"i":21,"t":"z"},{"p":2,"r":1,"i":23,"t":"z"},
{"p":2,"r":2,"i":1,"t":"b"},{"p":2,"r":2,"i":2,"t":"b"},{"p":2,"r":2,"i":3,"t":"b"},{"p":2,"r":2,"i":5,"t":"b"},{"p":2,"r":2,"i":6,"t":"b"},{"p":2,"r":2,"i":7,"t":"b"},{"p":2,"r":2,"i":8,"t":"b"},{"p":2,"r":2,"i":10,"t":"b"},{"p":2,"r":2,"i":11,"t":"b"},{"p":2,"r":2,"i":12,"t":"b"},{"p":2,"r":2,"i":13,"t":"b"},{"p":2,"r":2,"i":14,"t":"b"},{"p":2,"r":2,"i":18,"t":"b"},
{"p":2,"r":2,"i":1,"t":"a"},{"p":2,"r":2,"i":6,"t":"a"},{"p":2,"r":2,"i":8,"t":"a"},{"p":2,"r":2,"i":9,"t":"a"},{"p":2,"r":2,"i":10,"t":"a"},{"p":2,"r":2,"i":11,"t":"a"},{"p":2,"r":2,"i":12,"t":"a"},{"p":2,"r":2,"i":15,"t":"a"},{"p":2,"r":2,"i":17,"t":"a"},{"p":2,"r":2,"i":19,"t":"a"},
{"p":2,"r":2,"i":0,"t":"c"},{"p":2,"r":2,"i":2,"t":"c"},{"p":2,"r":2,"i":12,"t":"c"},
{"p":2,"r":2,"i":0,"t":"y"},{"p":2,"r":2,"i":1,"t":"y"},{"p":2,"r":2,"i":2,"t":"y"},{"p":2,"r":2,"i":3,"t":"y"},{"p":2,"r":2,"i":5,"t":"y"},{"p":2,"r":2,"i":6,"t":"y"},{"p":2,"r":2,"i":7,"t":"y"},{"p":2,"r":2,"i":8,"t":"y"},{"p":2,"r":2,"i":9,"t":"y"},{"p":2,"r":2,"i":10,"t":"y"},{"p":2,"r":2,"i":11,"t":"y"},{"p":2,"r":2,"i":12,"t":"y"},{"p":2,"r":2,"i":13,"t":"y"},{"p":2,"r":2,"i":14,"t":"y"},{"p":2,"r":2,"i":18,"t":"y"},{"p":2,"r":2,"i":21,"t":"y"},{"p":2,"r":2,"i":23,"t":"y"},
{"p":2,"r":2,"i":4,"t":"x"},{"p":2,"r":2,"i":5,"t":"x"},{"p":2,"r":2,"i":6,"t":"x"},{"p":2,"r":2,"i":8,"t":"x"},{"p":2,"r":2,"i":10,"t":"x"},{"p":2,"r":2,"i":14,"t":"x"},{"p":2,"r":2,"i":15,"t":"x"},{"p":2,"r":2,"i":16,"t":"x"},{"p":2,"r":2,"i":18,"t":"x"},{"p":2,"r":2,"i":20,"t":"x"},{"p":2,"r":2,"i":21,"t":"x"},
{"p":2,"r":2,"i":9,"t":"z"},{"p":2,"r":2,"i":14,"t":"z"},{"p":2,"r":2,"i":16,"t":"z"},{"p":2,"r":2,"i":17,"t":"z"},{"p":2,"r":2,"i":19,"t":"z"},
{"p":2,"r":3,"i":0,"t":"b"},{"p":2,"r":3,"i":1,"t":"b"},{"p":2,"r":3,"i":3,"t":"b"},{"p":2,"r":3,"i":4,"t":"b"},{"p":2,"r":3,"i":5,"t":"b"},{"p":2,"r":3,"i":6,"t":"b"},{"p":2,"r":3,"i":7,"t":"b"},{"p":2,"r":3,"i":12,"t":"b"},{"p":2,"r":3,"i":13,"t":"b"},{"p":2,"r":3,"i":22,"t":"b"},{"p":2,"r":3,"i":23,"t":"b"},
{"p":2,"r":3,"i":3,"t":"a"},{"p":2,"r":3,"i":5,"t":"a"},{"p":2,"r":3,"i":7,"t":"a"},{"p":2,"r":3,"i":8,"t":"a"},{"p":2,"r":3,"i":9,"t":"a"},{"p":2,"r":3,"i":10,"t":"a"},{"p":2,"r":3,"i":11,"t":"a"},{"p":2,"r":3,"i":12,"t":"a"},{"p":2,"r":3,"i":13,"t":"a"},{"p":2,"r":3,"i":14,"t":"a"},{"p":2,"r":3,"i":16,"t":"a"},{"p":2,"r":3,"i":17,"t":"a"},{"p":2,"r":3,"i":18,"t":"a"},{"p":2,"r":3,"i":19,"t":"a"},{"p":2,"r":3,"i":22,"t":"a"},{"p":2,"r":3,"i":23,"t":"a"},
{"p":2,"r":3,"i":3,"t":"c"},{"p":2,"r":3,"i":4,"t":"c"},{"p":2,"r":3,"i":5,"t":"c"},{"p":2,"r":3,"i":6,"t":"c"},{"p":2,"r":3,"i":7,"t":"c"},{"p":2,"r":3,"i":8,"t":"c"},{"p":2,"r":3,"i":13,"t":"c"},{"p":2,"r":3,"i":14,"t":"c"},{"p":2,"r":3,"i":22,"t":"c"},
{"p":2,"r":3,"i":0,"t":"y"},{"p":2,"r":3,"i":1,"t":"y"},{"p":2,"r":3,"i":2,"t":"y"},{"p":2,"r":3,"i":3,"t":"y"},{"p":2,"r":3,"i":4,"t":"y"},{"p":2,"r":3,"i":6,"t":"y"},{"p":2,"r":3,"i":7,"t":"y"},{"p":2,"r":3,"i":8,"t":"y"},{"p":2,"r":3,"i":10,"t":"y"},{"p":2,"r":3,"i":11,"t":"y"},{"p":2,"r":3,"i":12,"t":"y"},{"p":2,"r":3,"i":13,"t":"y"},{"p":2,"r":3,"i":14,"t":"y"},{"p":2,"r":3,"i":15,"t":"y"},{"p":2,"r":3,"i":16,"t":"y"},{"p":2,"r":3,"i":17,"t":"y"},
{"p":2,"r":3,"i":2,"t":"x"},{"p":2,"r":3,"i":3,"t":"x"},{"p":2,"r":3,"i":4,"t":"x"},{"p":2,"r":3,"i":8,"t":"x"},{"p":2,"r":3,"i":9,"t":"x"},{"p":2,"r":3,"i":11,"t":"x"},{"p":2,"r":3,"i":12,"t":"x"},
{"p":2,"r":3,"i":2,"t":"z"},{"p":2,"r":3,"i":4,"t":"z"},{"p":2,"r":3,"i":8,"t":"z"},{"p":2,"r":3,"i":11,"t":"z"}
]
},
"spacing":82,
"bounds":"flush",
"vconcat":[
{
"width":1732,"height":300,
"resolve":{"scale":{"x":"independent","y":"independent"}},
"layer":[
{
"resolve":{"axis":{"x":"independent","y":"independent"}},
"layer":[
{"data":{"values":[{}]},"mark":{"type":"rect","color":"#808080","clip":false},
 "encoding":{"x":{"datum":262.35,"type":"quantitative","scale":{"domain":[343.4,2320.6],"nice":false,"zero":false},"axis":null},"x2":{"datum":2320.6},
 "y":{"datum":203773,"type":"quantitative","scale":{"domain":[-1930,179040],"nice":false,"zero":false},"axis":null},"y2":{"datum":207392}}},
{"data":{"values":[{}]},"mark":{"type":"rule","color":"#333333","strokeWidth":1.2},
 "encoding":{"y":{"datum":0,"type":"quantitative","scale":{"domain":[-1930,179040],"nice":false,"zero":false},"axis":null}}},
{"data":{"name":"t"},"transform":[{"filter":"datum.s != 'P'"}],"mark":{"type":"rule","strokeWidth":2.6},
 "encoding":{
 "x":{"field":"mz","type":"quantitative","scale":{"domain":[343.4,2320.6],"nice":false,"zero":false},
  "axis":{"orient":"bottom","title":"m/z","format":"d","tickCount":20,"tickSize":10,"tickWidth":1.5,"tickColor":"#2a2a2a","domain":true,"domainColor":"#2a2a2a","domainWidth":1.5,"labelFont":"Noto Sans","labelFontSize":14,"labelColor":"#3a3a3a","labelPadding":9,"labelFlush":false,"labelOverlap":false,"grid":true,"gridColor":"#c8c8c8","gridWidth":1,"titleFont":"Noto Sans","titleFontSize":13,"titleFontWeight":"normal","titleColor":"#444444","titlePadding":14}},
 "y":{"field":"i","type":"quantitative","scale":{"domain":[-1930,179040],"nice":false,"zero":false},
  "axis":{"orient":"left","title":null,"format":"d","tickCount":4,"tickSize":10,"tickWidth":1.5,"tickColor":"#2a2a2a","domain":true,"domainColor":"#2a2a2a","domainWidth":1.5,"labelFont":"Noto Sans","labelFontSize":14,"labelColor":"#3a3a3a","labelPadding":5,"labelFlush":false,"labelOverlap":false,"grid":true,"gridColor":"#c8c8c8","gridWidth":1}},
 "y2":{"datum":0},
 "color":{"field":"s","type":"nominal","legend":null,"scale":{"domain":["k","o","p","g","c","q","r","b","l"],"range":["#2b2b2b","#c25ad8","#8c00d4","#109a10","#3fe0d0","#ff4f2b","#d42424","#0000ff","#1e90ff"]}}}},
{"data":{"name":"t"},"transform":[{"filter":"datum.s == 'P'"}],"mark":{"type":"rule","strokeWidth":4.5,"color":"#8b0000"},
 "encoding":{"x":{"field":"mz","type":"quantitative","scale":{"domain":[343.4,2320.6],"nice":false,"zero":false},"axis":null},
 "y":{"field":"i","type":"quantitative","scale":{"domain":[-1930,179040],"nice":false,"zero":false},"axis":null},"y2":{"datum":0}}},
{"data":{"values":[{"mz":1390.2,"i":139800,"lab":"[M+6H]","sup":"6+"}]},"mark":{"type":"text","align":"right","baseline":"alphabetic","font":"Liberation Sans","fontSize":39,"color":"#c00000"},
 "encoding":{"x":{"field":"mz","type":"quantitative","scale":{"domain":[343.4,2320.6],"nice":false,"zero":false},"axis":null},
 "y":{"field":"i","type":"quantitative","scale":{"domain":[-1930,179040],"nice":false,"zero":false},"axis":null},"text":{"field":"lab"}}},
{"data":{"values":[{"mz":1390.2,"i":139800,"lab":"[M+6H]","sup":"6+"}]},"mark":{"type":"text","align":"left","baseline":"alphabetic","font":"Liberation Sans","fontSize":24,"color":"#c00000","dx":1.5,"dy":-12},
 "encoding":{"x":{"field":"mz","type":"quantitative","scale":{"domain":[343.4,2320.6],"nice":false,"zero":false},"axis":null},
 "y":{"field":"i","type":"quantitative","scale":{"domain":[-1930,179040],"nice":false,"zero":false},"axis":null},"text":{"field":"sup"}}},
{"data":{"values":[{}]},"mark":{"type":"point","opacity":0},
 "encoding":{"x":{"datum":1000,"type":"quantitative","scale":{"domain":[343.4,2320.6],"nice":false,"zero":false},"axis":{"orient":"bottom","title":null,"tickCount":100,"tickSize":5,"tickWidth":1.5,"tickColor":"#2a2a2a","labels":false,"domain":false,"grid":false}},
 "y":{"datum":0,"type":"quantitative","scale":{"domain":[-1930,179040],"nice":false,"zero":false},"axis":{"orient":"left","title":null,"tickCount":18,"tickSize":5,"tickWidth":1.5,"tickColor":"#2a2a2a","labels":false,"domain":false,"grid":false}}}},
{"data":{"values":[{}]},"mark":{"type":"point","opacity":0},
 "encoding":{"x":{"datum":1000,"type":"quantitative","scale":{"domain":[343.4,2320.6],"nice":false,"zero":false},"axis":{"orient":"top","title":null,"ticks":false,"labels":false,"domain":true,"domainColor":"#3a3a3a","domainWidth":1.5,"grid":false}},
 "y":{"datum":0,"type":"quantitative","scale":{"domain":[-1930,179040],"nice":false,"zero":false},"axis":null}}}
]
},
{
"encoding":{"x":{"field":"i","type":"quantitative","scale":{"domain":[-45.04,24.24],"nice":false,"zero":false},"axis":null},
 "y":{"field":"r","type":"quantitative","scale":{"domain":[0.2424,5.0271],"reverse":true,"nice":false,"zero":false},"axis":null}},
"layer":[
{"data":{"name":"seq"},"mark":{"type":"text","clip":true,"align":"left","baseline":"alphabetic","font":"Liberation Sans","fontSize":18.5,"fontWeight":"bold","color":"#111111"},"encoding":{"text":{"field":"aa"}}},
{"data":{"name":"br"},"transform":[{"filter":"datum.p == 1 && datum.t == 'c'"}],"mark":{"type":"point","clip":true,"shape":"M-1,-0.45L1,-0.45L1,0.5","size":144,"filled":false,"strokeWidth":2,"opacity":1,"color":"#c01818","xOffset":13.7,"yOffset":-28.6}},
{"data":{"name":"br"},"transform":[{"filter":"datum.p == 1 && datum.t == 'b'"}],"mark":{"type":"point","clip":true,"shape":"M-1,-0.45L1,-0.45L1,0.5","size":144,"filled":false,"strokeWidth":2,"opacity":1,"color":"#1010e0","xOffset":13.7,"yOffset":-23.8}},
{"data":{"name":"br"},"transform":[{"filter":"datum.p == 1 && datum.t == 'a'"}],"mark":{"type":"point","clip":true,"shape":"M-1,-0.45L1,-0.45L1,0.5","size":144,"filled":false,"strokeWidth":2,"opacity":1,"color":"#0a8a0a","xOffset":13.7,"yOffset":-19.2}},
{"data":{"name":"br"},"transform":[{"filter":"datum.p == 1 && datum.t == 'x'"}],"mark":{"type":"point","clip":true,"shape":"M-1,-0.5L-1,0.45L1,0.45","size":144,"filled":false,"strokeWidth":2,"opacity":1,"color":"#2ccc2c","xOffset":24.8,"yOffset":4.6}},
{"data":{"name":"br"},"transform":[{"filter":"datum.p == 1 && datum.t == 'y'"}],"mark":{"type":"point","clip":true,"shape":"M-1,-0.5L-1,0.45L1,0.45","size":144,"filled":false,"strokeWidth":2,"opacity":1,"color":"#2a8ff0","xOffset":24.8,"yOffset":10}},
{"data":{"name":"br"},"transform":[{"filter":"datum.p == 1 && datum.t == 'z'"}],"mark":{"type":"point","clip":true,"shape":"M-1,-0.5L-1,0.45L1,0.45","size":144,"filled":false,"strokeWidth":2,"opacity":1,"color":"#ff5a3a","xOffset":24.8,"yOffset":14.6}}
]
}
]
},
{
"width":1732,"height":307,
"title":{"text":"MS3 CID of radical ubiquitin ions sprayed under native conditions","orient":"bottom","anchor":"start","frame":"group","font":"Liberation Sans","fontSize":42.5,"fontWeight":"normal","color":"#000000","baseline":"alphabetic","offset":37,"dx":8},
"resolve":{"scale":{"x":"independent","y":"independent"}},
"layer":[
{
"resolve":{"axis":{"x":"independent","y":"independent"}},
"layer":[
{"data":{"values":[{}]},"mark":{"type":"rule","color":"#333333","strokeWidth":1.2},
 "encoding":{"y":{"datum":0,"type":"quantitative","scale":{"domain":[-3340,142890],"nice":false,"zero":false},"axis":null}}},
{"data":{"name":"u"},"transform":[{"filter":"datum.s != 'R'"}],"mark":{"type":"rule","strokeWidth":2.6},
 "encoding":{
 "x":{"field":"mz","type":"quantitative","scale":{"domain":[541.9,2325.6],"nice":false,"zero":false},
  "axis":{"orient":"bottom","title":"m/z","format":"d","tickCount":18,"tickSize":10,"tickWidth":1.5,"tickColor":"#2a2a2a","domain":true,"domainColor":"#2a2a2a","domainWidth":1.5,"labelFont":"Noto Sans","labelFontSize":14,"labelColor":"#3a3a3a","labelPadding":9,"labelFlush":false,"labelOverlap":false,"grid":true,"gridColor":"#c8c8c8","gridWidth":1,"titleFont":"Noto Sans","titleFontSize":13,"titleFontWeight":"normal","titleColor":"#444444","titlePadding":14}},
 "y":{"field":"i","type":"quantitative","scale":{"domain":[-3340,142890],"nice":false,"zero":false},
  "axis":{"orient":"left","title":null,"format":"d","tickCount":3,"tickSize":10,"tickWidth":1.5,"tickColor":"#2a2a2a","domain":true,"domainColor":"#2a2a2a","domainWidth":1.5,"labelFont":"Noto Sans","labelFontSize":14,"labelColor":"#3a3a3a","labelPadding":5,"labelFlush":false,"labelOverlap":false,"grid":true,"gridColor":"#c8c8c8","gridWidth":1}},
 "y2":{"datum":0},
 "color":{"field":"s","type":"nominal","legend":null,"scale":{"domain":["k","o","p","g","c","q","r","b","l"],"range":["#2b2b2b","#c25ad8","#8c00d4","#109a10","#3fe0d0","#ff4f2b","#d42424","#0000ff","#1e90ff"]}}}},
{"data":{"name":"u"},"transform":[{"filter":"datum.s == 'R'"}],"mark":{"type":"rule","strokeWidth":3.5,"color":"#c41414"},
 "encoding":{"x":{"field":"mz","type":"quantitative","scale":{"domain":[541.9,2325.6],"nice":false,"zero":false},"axis":null},
 "y":{"field":"i","type":"quantitative","scale":{"domain":[-3340,142890],"nice":false,"zero":false},"axis":null},"y2":{"datum":0}}},
{"data":{"values":[{"mz":1380.2,"i":111640,"lab":"[M+5H]","sup":"6+•"}]},"mark":{"type":"text","align":"right","baseline":"alphabetic","font":"Liberation Sans","fontSize":39,"color":"#c00000"},
 "encoding":{"x":{"field":"mz","type":"quantitative","scale":{"domain":[541.9,2325.6],"nice":false,"zero":false},"axis":null},
 "y":{"field":"i","type":"quantitative","scale":{"domain":[-3340,142890],"nice":false,"zero":false},"axis":null},"text":{"field":"lab"}}},
{"data":{"values":[{"mz":1380.2,"i":111640,"lab":"[M+5H]","sup":"6+•"}]},"mark":{"type":"text","align":"left","baseline":"alphabetic","font":"Liberation Sans","fontSize":24,"color":"#c00000","dx":2,"dy":-13},
 "encoding":{"x":{"field":"mz","type":"quantitative","scale":{"domain":[541.9,2325.6],"nice":false,"zero":false},"axis":null},
 "y":{"field":"i","type":"quantitative","scale":{"domain":[-3340,142890],"nice":false,"zero":false},"axis":null},"text":{"field":"sup"}}},
{"data":{"values":[{}]},"mark":{"type":"point","opacity":0},
 "encoding":{"x":{"datum":1000,"type":"quantitative","scale":{"domain":[541.9,2325.6],"nice":false,"zero":false},"axis":{"orient":"bottom","title":null,"tickCount":90,"tickSize":5,"tickWidth":1.5,"tickColor":"#2a2a2a","labels":false,"domain":false,"grid":false}},
 "y":{"datum":0,"type":"quantitative","scale":{"domain":[-3340,142890],"nice":false,"zero":false},"axis":{"orient":"left","title":null,"tickCount":15,"tickSize":5,"tickWidth":1.5,"tickColor":"#2a2a2a","labels":false,"domain":false,"grid":false}}}},
{"data":{"values":[{}]},"mark":{"type":"point","opacity":0},
 "encoding":{"x":{"datum":1000,"type":"quantitative","scale":{"domain":[541.9,2325.6],"nice":false,"zero":false},"axis":{"orient":"top","title":null,"ticks":false,"labels":false,"domain":true,"domainColor":"#3a3a3a","domainWidth":1.5,"grid":false}},
 "y":{"datum":0,"type":"quantitative","scale":{"domain":[-3340,142890],"nice":false,"zero":false},"axis":null}}}
]
},
{
"encoding":{"x":{"field":"i","type":"quantitative","scale":{"domain":[-45.04,24.24],"nice":false,"zero":false},"axis":null},
 "y":{"field":"r","type":"quantitative","scale":{"domain":[0.2678,5.1231],"reverse":true,"nice":false,"zero":false},"axis":null}},
"layer":[
{"data":{"name":"seq"},"mark":{"type":"text","clip":true,"align":"left","baseline":"alphabetic","font":"Liberation Sans","fontSize":18.5,"fontWeight":"bold","color":"#111111"},"encoding":{"text":{"field":"aa"}}},
{"data":{"name":"br"},"transform":[{"filter":"datum.p == 2 && datum.t == 'c'"}],"mark":{"type":"point","clip":true,"shape":"M-1,-0.45L1,-0.45L1,0.5","size":144,"filled":false,"strokeWidth":2,"opacity":1,"color":"#c01818","xOffset":13.7,"yOffset":-28.6}},
{"data":{"name":"br"},"transform":[{"filter":"datum.p == 2 && datum.t == 'b'"}],"mark":{"type":"point","clip":true,"shape":"M-1,-0.45L1,-0.45L1,0.5","size":144,"filled":false,"strokeWidth":2,"opacity":1,"color":"#1010e0","xOffset":13.7,"yOffset":-23.8}},
{"data":{"name":"br"},"transform":[{"filter":"datum.p == 2 && datum.t == 'a'"}],"mark":{"type":"point","clip":true,"shape":"M-1,-0.45L1,-0.45L1,0.5","size":144,"filled":false,"strokeWidth":2,"opacity":1,"color":"#0a8a0a","xOffset":13.7,"yOffset":-19.2}},
{"data":{"name":"br"},"transform":[{"filter":"datum.p == 2 && datum.t == 'x'"}],"mark":{"type":"point","clip":true,"shape":"M-1,-0.5L-1,0.45L1,0.45","size":144,"filled":false,"strokeWidth":2,"opacity":1,"color":"#2ccc2c","xOffset":24.8,"yOffset":4.6}},
{"data":{"name":"br"},"transform":[{"filter":"datum.p == 2 && datum.t == 'y'"}],"mark":{"type":"point","clip":true,"shape":"M-1,-0.5L-1,0.45L1,0.45","size":144,"filled":false,"strokeWidth":2,"opacity":1,"color":"#2a8ff0","xOffset":24.8,"yOffset":10}},
{"data":{"name":"br"},"transform":[{"filter":"datum.p == 2 && datum.t == 'z'"}],"mark":{"type":"point","clip":true,"shape":"M-1,-0.5L-1,0.45L1,0.45","size":144,"filled":false,"strokeWidth":2,"opacity":1,"color":"#ff5a3a","xOffset":24.8,"yOffset":14.6}}
]
}
]
}
]
}
